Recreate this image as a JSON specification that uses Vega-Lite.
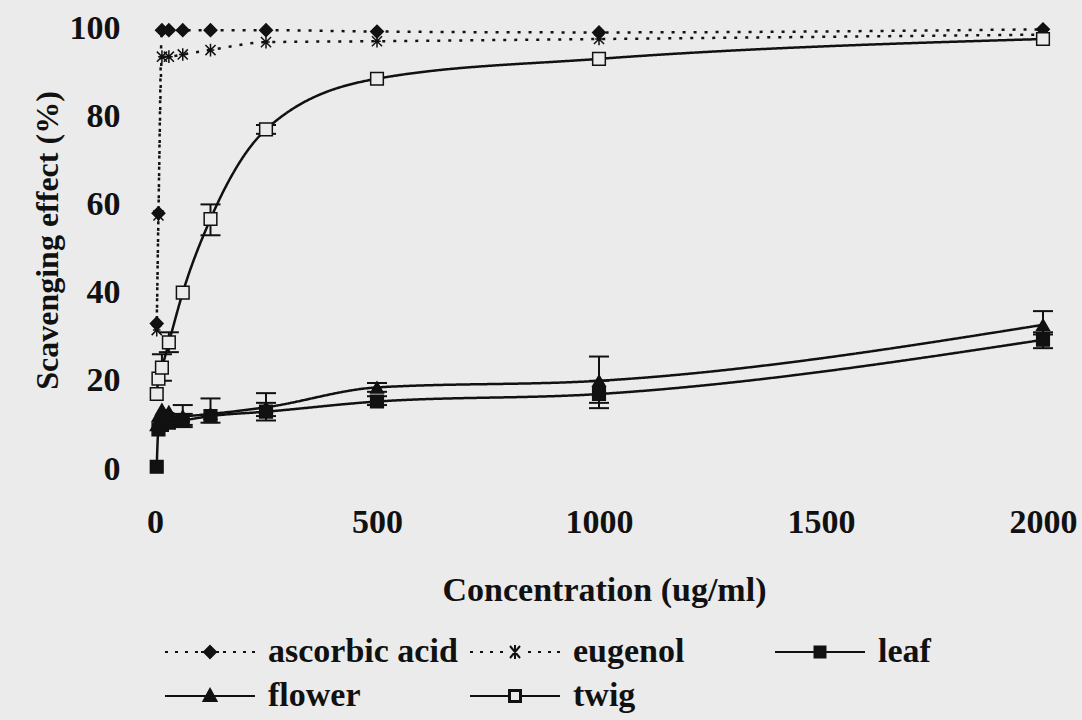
{
  "$schema": "https://vega.github.io/schema/vega-lite/v6.json",
  "width": 888,
  "height": 441,
  "autosize": {"type": "none"},
  "padding": {"left": 155, "top": 28, "right": 39, "bottom": 251},
  "background": "#ebebeb",
  "config": {"font": "Liberation Serif", "view": {"stroke": null}},
  "data": {
    "values": [
      {"series": "ascorbic acid", "conc": 3.9, "y": 33},
      {"series": "ascorbic acid", "conc": 7.8, "y": 58},
      {"series": "ascorbic acid", "conc": 15.6, "y": 99.5},
      {"series": "ascorbic acid", "conc": 31.25, "y": 99.5},
      {"series": "ascorbic acid", "conc": 62.5, "y": 99.5},
      {"series": "ascorbic acid", "conc": 125, "y": 99.5},
      {"series": "ascorbic acid", "conc": 250, "y": 99.5},
      {"series": "ascorbic acid", "conc": 500, "y": 99.2},
      {"series": "ascorbic acid", "conc": 1000, "y": 99},
      {"series": "ascorbic acid", "conc": 2000, "y": 99.7},
      {"series": "eugenol", "conc": 3.9, "y": 31.5},
      {"series": "eugenol", "conc": 7.8, "y": 57.5},
      {"series": "eugenol", "conc": 15.6, "y": 93.5},
      {"series": "eugenol", "conc": 31.25, "y": 93.5},
      {"series": "eugenol", "conc": 62.5, "y": 94},
      {"series": "eugenol", "conc": 125, "y": 95},
      {"series": "eugenol", "conc": 250, "y": 96.8},
      {"series": "eugenol", "conc": 500, "y": 97},
      {"series": "eugenol", "conc": 1000, "y": 97.5},
      {"series": "eugenol", "conc": 2000, "y": 98.5},
      {"series": "leaf", "conc": 3.9, "y": 0.5},
      {"series": "leaf", "conc": 7.8, "y": 9},
      {"series": "leaf", "conc": 15.6, "y": 10},
      {"series": "leaf", "conc": 31.25, "y": 10.5},
      {"series": "leaf", "conc": 62.5, "y": 11, "lo": 9.5, "hi": 12.5},
      {"series": "leaf", "conc": 125, "y": 12},
      {"series": "leaf", "conc": 250, "y": 13, "lo": 11, "hi": 15},
      {"series": "leaf", "conc": 500, "y": 15.3, "lo": 14.5, "hi": 16.5},
      {"series": "leaf", "conc": 1000, "y": 17, "lo": 13.8, "hi": 20},
      {"series": "leaf", "conc": 2000, "y": 29.3, "lo": 27.4, "hi": 31},
      {"series": "flower", "conc": 3.9, "y": 10},
      {"series": "flower", "conc": 7.8, "y": 12},
      {"series": "flower", "conc": 15.6, "y": 13.5},
      {"series": "flower", "conc": 31.25, "y": 13},
      {"series": "flower", "conc": 62.5, "y": 12, "lo": 10, "hi": 14.5},
      {"series": "flower", "conc": 125, "y": 12.5, "lo": 10.5, "hi": 16},
      {"series": "flower", "conc": 250, "y": 14, "lo": 12, "hi": 17.2},
      {"series": "flower", "conc": 500, "y": 18.5, "lo": 17.5, "hi": 19.5},
      {"series": "flower", "conc": 1000, "y": 20, "lo": 15, "hi": 25.5},
      {"series": "flower", "conc": 2000, "y": 32.7, "lo": 30.5, "hi": 35.8},
      {"series": "twig", "conc": 3.9, "y": 17},
      {"series": "twig", "conc": 7.8, "y": 20.5},
      {"series": "twig", "conc": 15.6, "y": 23, "lo": 20, "hi": 26},
      {"series": "twig", "conc": 31.25, "y": 28.7, "lo": 26.5, "hi": 31},
      {"series": "twig", "conc": 62.5, "y": 40},
      {"series": "twig", "conc": 125, "y": 56.7, "lo": 53, "hi": 60},
      {"series": "twig", "conc": 250, "y": 77, "lo": 76, "hi": 78},
      {"series": "twig", "conc": 500, "y": 88.5},
      {"series": "twig", "conc": 1000, "y": 93},
      {"series": "twig", "conc": 2000, "y": 97.5}
    ]
  },
  "encoding": {
    "x": {
      "field": "conc", "type": "quantitative",
      "scale": {"domain": [0, 2000], "nice": false, "zero": false},
      "axis": {
        "title": "Concentration (ug/ml)",
        "values": [0, 500, 1000, 1500, 2000],
        "format": "d",
        "domain": false, "ticks": false, "grid": false, "tickSize": 0,
        "labelFontSize": 34, "labelFontWeight": "bold", "labelColor": "#111",
        "labelPadding": 36, "labelFlush": false, "labelOverlap": false, "labelBound": false,
        "titleFontSize": 34, "titleFontWeight": "bold", "titleColor": "#111",
        "titleX": 449, "titleY": 131, "titleBaseline": "alphabetic"
      }
    },
    "y": {
      "field": "y", "type": "quantitative",
      "scale": {"domain": [0, 100], "nice": false},
      "axis": {
        "title": "Scavenging effect (%)",
        "values": [0, 20, 40, 60, 80, 100],
        "format": "d",
        "domain": false, "ticks": false, "grid": false, "tickSize": 0,
        "labelFontSize": 34, "labelFontWeight": "bold", "labelColor": "#111",
        "labelPadding": 35, "labelOverlap": false, "labelBound": false, "labelFlush": false,
        "titleFontSize": 32, "titleFontWeight": "bold", "titleColor": "#111",
        "titleX": -98, "titleY": 212, "titleAngle": -90, "titleBaseline": "alphabetic"
      }
    }
  },
  "layer": [
    {
      "mark": {"type": "line", "interpolate": "monotone", "color": "#111", "strokeWidth": 2.5},
      "encoding": {
        "detail": {"field": "series"},
        "strokeDash": {
          "field": "series", "type": "nominal",
          "scale": {
            "domain": ["ascorbic acid", "eugenol", "leaf", "flower", "twig"],
            "range": [[3, 8], [3, 8], [1, 0], [1, 0], [1, 0]]
          },
          "legend": null
        }
      }
    },
    {
      "transform": [{"filter": "isValid(datum.lo)"}],
      "mark": {"type": "rule", "color": "#111", "strokeWidth": 2},
      "encoding": {"y": {"field": "lo", "type": "quantitative"}, "y2": {"field": "hi"}}
    },
    {
      "transform": [{"filter": "isValid(datum.lo)"}],
      "mark": {"type": "tick", "orient": "horizontal", "color": "#111", "thickness": 2, "size": 20, "opacity": 1},
      "encoding": {"y": {"field": "lo", "type": "quantitative"}}
    },
    {
      "transform": [{"filter": "isValid(datum.hi)"}],
      "mark": {"type": "tick", "orient": "horizontal", "color": "#111", "thickness": 2, "size": 20, "opacity": 1},
      "encoding": {"y": {"field": "hi", "type": "quantitative"}}
    },
    {
      "mark": {"type": "point", "filled": true, "opacity": 1, "stroke": "#111", "strokeWidth": 1.5, "size": 160},
      "encoding": {
        "shape": {
          "field": "series", "type": "nominal",
          "scale": {
            "domain": ["ascorbic acid", "eugenol", "leaf", "flower", "twig"],
            "range": ["diamond", "M-0.8,-0.8L0.8,0.8M-0.8,0.8L0.8,-0.8M0,-1L0,1M-0.6,0L0.6,0", "square", "triangle-up", "square"]
          },
          "legend": null
        },
        "fill": {
          "field": "series", "type": "nominal",
          "scale": {
            "domain": ["ascorbic acid", "eugenol", "leaf", "flower", "twig"],
            "range": ["#111", "#111", "#111", "#111", "#ebebeb"]
          },
          "legend": null
        }
      }
    },
    {
      "transform": [{"filter": "datum.conc < 0"}],
      "mark": {"type": "point", "filled": false, "opacity": 1, "fill": "#111", "stroke": "#111", "strokeWidth": 2},
      "encoding": {
        "shape": {
          "field": "series", "type": "nominal",
          "scale": {
            "domain": ["ascorbic acid", "eugenol", "leaf", "flower", "twig"],
            "range": [
              "M-4.5,0L-4.2,0M-3.5,0L-3.2,0M-2.5,0L-2.2,0M-1.5,0L-1.2,0M-0.9,0L0.9,0M0,-0.6L0.6,0L0,0.6L-0.6,0ZM1.3,0L1.6,0M2.3,0L2.6,0M3.3,0L3.6,0M4.2,0L4.5,0",
              "M-4.5,0L-4.2,0M-3.5,0L-3.2,0M-2.5,0L-2.2,0M-1.5,0L-1.2,0M-0.5,-0.6L0.5,0.6M-0.5,0.6L0.5,-0.6M0,-0.7L0,0.7M1.3,0L1.6,0M2.3,0L2.6,0M3.3,0L3.6,0M4.2,0L4.5,0",
              "M-4.5,0L4.5,0M-0.55,-0.55L0.55,-0.55L0.55,0.55L-0.55,0.55Z",
              "M-4.5,0L4.5,0M0,-0.7L0.65,0.5L-0.65,0.5Z",
              "M-4.5,0L-0.6,0M0.6,0L4.5,0M-0.6,-0.6L0.6,-0.6L0.6,0.6L-0.6,0.6ZM-0.5,-0.5L-0.5,0.5L0.5,0.5L0.5,-0.5Z"
            ]
          },
          "legend": {
            "title": null,
            "orient": "none",
            "legendX": 10,
            "legendY": 607,
            "direction": "horizontal",
            "columns": 3,
            "gridAlign": "all",
            "columnPadding": 8,
            "rowPadding": 10,
            "padding": 0,
            "symbolSize": 400,
            "symbolStrokeWidth": 2,
            "symbolOffset": 28,
            "symbolOpacity": 1,
            "labelOffset": 41,
            "labelFontSize": 34,
            "labelFontWeight": "bold",
            "labelColor": "#111",
            "labelFont": "Liberation Serif",
            "labelLimit": 400
          }
        }
      }
    }
  ],
  "resolve": {"scale": {"shape": "independent"}, "legend": {"shape": "independent"}}
}
